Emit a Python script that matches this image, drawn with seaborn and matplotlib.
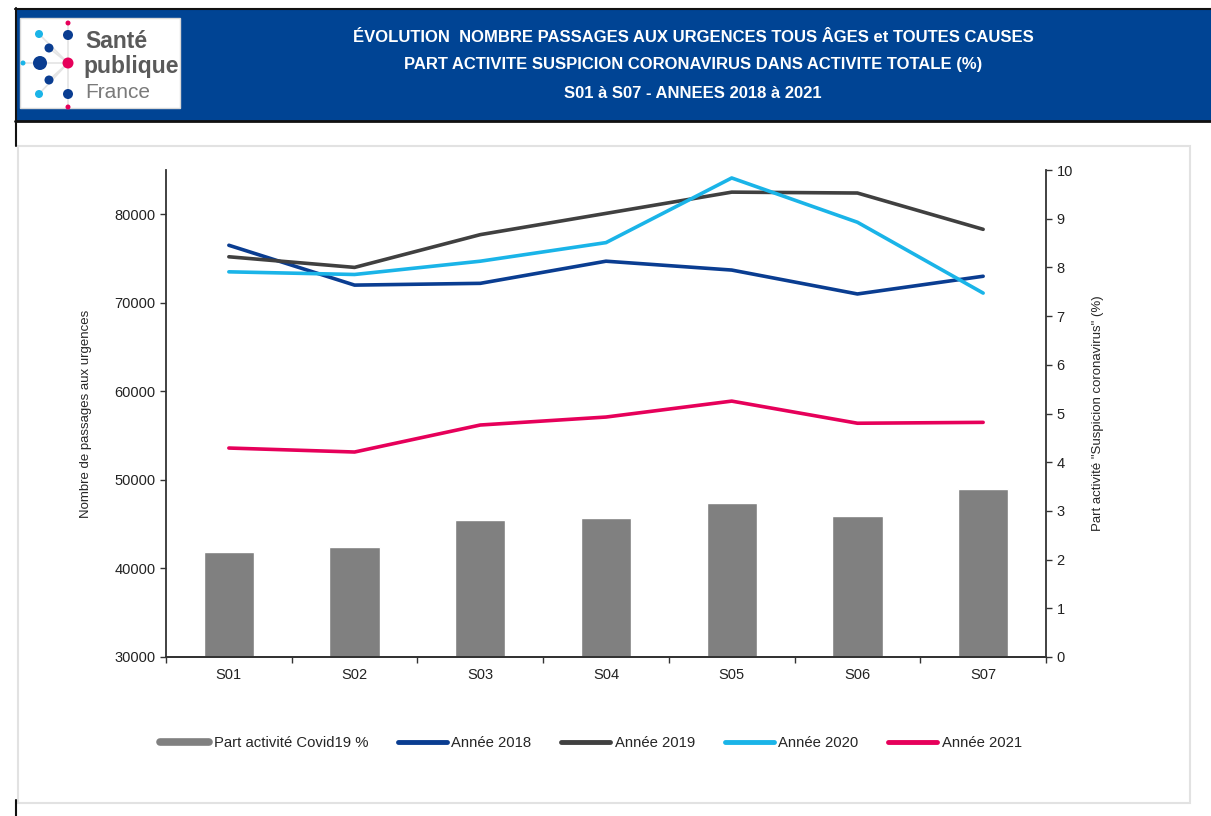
import pandas as pd
import numpy as np
import matplotlib.pyplot as plt
import matplotlib.patches as mpatches
from matplotlib.lines import Line2D
from matplotlib.ticker import FixedLocator
import seaborn as sns

# -----------------------------
# Data
# -----------------------------
semaines = ["S01", "S02", "S03", "S04", "S05", "S06", "S07"]
annee_2018 = [76500, 72000, 72200, 74700, 73700, 71000, 73000]
annee_2019 = [75200, 74000, 77700, 80100, 82500, 82400, 78300]
annee_2020 = [73500, 73200, 74700, 76800, 84100, 79100, 71100]
annee_2021 = [53600, 53150, 56200, 57100, 58900, 56400, 56500]
part_covid = [2.16, 2.26, 2.81, 2.85, 3.16, 2.90, 3.45]

series_names = ["Année 2018", "Année 2019", "Année 2020", "Année 2021"]
bar_name = "Part activité Covid19 %"

titre = ["ÉVOLUTION  NOMBRE PASSAGES AUX URGENCES TOUS ÂGES et TOUTES CAUSES",
         "PART ACTIVITE SUSPICION CORONAVIRUS DANS ACTIVITE TOTALE (%)",
         "S01 à S07 - ANNEES 2018 à 2021"]

colors = {"Année 2018": "#0a3d91",
          "Année 2019": "#404040",
          "Année 2020": "#1ab4e8",
          "Année 2021": "#e6005a"}
bar_color = "#808080"
header_blue = "#004494"

lines_df = pd.DataFrame({
    "semaine": semaines * 4,
    "valeur": annee_2018 + annee_2019 + annee_2020 + annee_2021,
    "annee": sum([[n] * len(semaines) for n in series_names], []),
})
bars_df = pd.DataFrame({"semaine": semaines, "part": part_covid})

# -----------------------------
# Figure
# -----------------------------
sns.set_style("white")
plt.rcParams["font.family"] = ["Liberation Sans", "DejaVu Sans"]

W, H = 1211, 816
fig = plt.figure(figsize=(W / 100, H / 100), dpi=100)

# background / header drawn in pixel coordinates
bg = fig.add_axes([0, 0, 1, 1], zorder=-5)
bg.set_xlim(0, W)
bg.set_ylim(H, 0)
bg.axis("off")

bg.add_patch(mpatches.Rectangle((15, 8), W - 15, 113, facecolor=header_blue,
                                edgecolor="none"))
bg.plot([15, W], [8.5, 8.5], color="#111111", lw=1.5)
bg.plot([15, W], [120.5, 120.5], color="#111111", lw=2)
bg.plot([15.5, 15.5], [8, 146], color="#111111", lw=1.5)
bg.plot([15.5, 15.5], [800, H], color="#111111", lw=1.5)
bg.add_patch(mpatches.Rectangle((18, 146), 1172, 657, facecolor="white",
                                edgecolor="#e2e2e2", lw=1.5))

# logo
bg.add_patch(mpatches.Rectangle((20, 18), 160, 90, facecolor="white",
                                edgecolor="#d8d8d8", lw=1))
bg.plot([68, 68], [23, 107], color="#e4e4e4", lw=1.2, zorder=1)
for (x0, y0) in [(39, 34), (49, 48), (23, 63), (49, 80), (39, 94)]:
    bg.plot([x0, 68], [y0, 63], color="#e4e4e4", lw=1.2, zorder=1)
dots = [(68, 23, 2.5, "#e6005a"), (39, 34, 4, "#1ab4e8"), (68, 35, 5, "#0a3d91"),
        (49, 48, 4.5, "#0a3d91"), (40, 63, 7, "#0a3d91"), (23, 63, 2.5, "#1ab4e8"),
        (68, 63, 5.5, "#e6005a"), (49, 80, 4.5, "#0a3d91"), (39, 94, 4, "#1ab4e8"),
        (68, 94, 5, "#0a3d91"), (68, 107, 2.5, "#e6005a")]
for x0, y0, r, c in dots:
    bg.add_patch(mpatches.Circle((x0, y0), r, facecolor=c, edgecolor="none", zorder=2))
bg.text(85, 42, "Santé", fontsize=16.5, fontweight="bold", color="#5a5a5a", va="center")
bg.text(83, 66, "publique", fontsize=16.5, fontweight="bold", color="#5a5a5a", va="center")
bg.text(85, 92, "France", fontsize=15, color="#7a7a7a", va="center")

# title
for i, ligne in enumerate(titre):
    bg.text(693, 37 + 28 * i, ligne, fontsize=12, fontweight="bold",
            color="white", ha="center", va="center")

# -----------------------------
# Chart
# -----------------------------
ax = fig.add_axes([166 / W, 1 - 657 / H, 880 / W, 487 / H])
ax2 = ax.twinx()

sns.barplot(data=bars_df, x="semaine", y="part", color=bar_color,
            width=0.4, saturation=1, ax=ax2)
sns.lineplot(data=lines_df, x="semaine", y="valeur", hue="annee",
             palette=colors, linewidth=2.6, ax=ax, legend=False)

ax.set_zorder(ax2.get_zorder() + 1)
ax.patch.set_visible(False)

ax.set_xlim(-0.5, 6.5)
ax.set_ylim(30000, 85000)
ax.set_yticks(range(30000, 80001, 10000))
ax2.set_ylim(0, 10)
ax2.set_yticks(range(0, 11))

ax.set_xlabel("")
ax.set_ylabel("Nombre de passages aux urgences", fontsize=9.5, labelpad=16)
ax2.set_ylabel('Part activité "Suspicion coronavirus" (%)', fontsize=9.5,
               labelpad=14)

for a in (ax, ax2):
    a.spines["top"].set_visible(False)
    for s in ("left", "right", "bottom"):
        a.spines[s].set_color("#333333")
        a.spines[s].set_linewidth(1.3)
    a.tick_params(axis="y", labelsize=10.5, length=4, width=1, color="#333333",
                  labelcolor="#222222")
ax.spines["right"].set_visible(False)
ax2.spines["left"].set_visible(False)
ax.tick_params(axis="y", direction="out", left=True)
ax2.tick_params(axis="y", direction="out", right=True)

ax.tick_params(axis="x", which="major", length=0, labelsize=10.5, pad=8,
               labelcolor="#222222")
ax.xaxis.set_minor_locator(FixedLocator(np.arange(-0.5, 6.6, 1)))
ax.tick_params(axis="x", which="minor", length=4, width=1, color="#333333",
               bottom=True, direction="out")
ax2.tick_params(axis="x", length=0)

# -----------------------------
# Legend
# -----------------------------
handles = [Line2D([0], [0], color=bar_color, lw=5.5)]
handles += [Line2D([0], [0], color=colors[n], lw=3.5) for n in series_names]
labels = [bar_name] + series_names
fig.legend(handles, labels, loc="center", bbox_to_anchor=(591 / W, 1 - 743 / H),
           ncol=5, frameon=False, fontsize=10.7, handlelength=3.3,
           handletextpad=0.3, columnspacing=2.0)

plt.savefig("out.png", dpi=100)
